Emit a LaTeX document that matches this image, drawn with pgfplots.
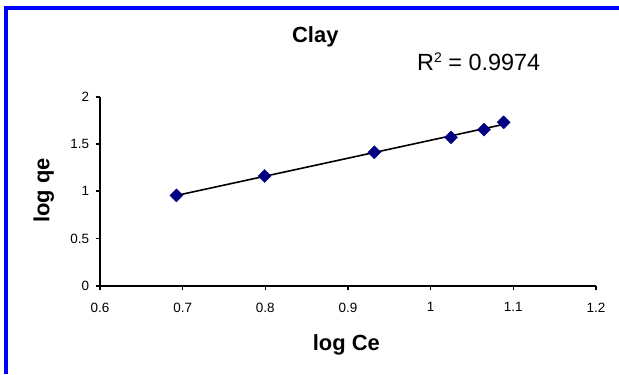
\documentclass[border=0pt]{standalone}
\usepackage{pgfplots}
\usepackage{pgfplotstable}
\pgfplotsset{compat=1.18}
\usepackage{fontspec}
\setmainfont{Liberation Sans}
\definecolor{frameblue}{RGB}{0,0,255}
\definecolor{navymark}{RGB}{0,0,128}

% Freundlich isotherm data for clay: log Ce vs log qe
\pgfplotstableread{
x y
0.6925 0.955
0.7992 1.161
0.9318 1.412
1.0246 1.570
1.0645 1.651
1.0883 1.729
}\claydata

\begin{document}
\begin{tikzpicture}[x=1bp,y=1bp]
\useasboundingbox (0,0) rectangle (619,374);
% chart frame
\fill[frameblue] (4,0) rectangle (8,368);
\fill[frameblue] (4,364) rectangle (619,368);
\begin{axis}[
  at={(100bp,88.3bp)}, anchor=south west,
  scale only axis, width=496bp, height=189bp,
  xmin=0.6, xmax=1.2, ymin=0, ymax=2,
  xtick={0.6,0.7,0.8,0.9,1,1.1,1.2},
  ytick={0,0.5,1,1.5,2},
  axis x line*=bottom, axis y line*=left,
  axis line style={-, line width=1.8bp, black},
  tick align=outside, major tick length=4.5bp,
  tick style={black, line width=1.6bp},
  tick label style={font=\fontsize{13.5}{15}\selectfont},
  xticklabel style={yshift=-9bp},
  yticklabel style={xshift=-3bp},
  /pgf/number format/assume math mode=true,
  clip=false,
]
\addplot[black, line width=1.6bp, no marks, forget plot]
  table[x=x, y={create col/linear regression={y=y}}] {\claydata};
\addplot[only marks, mark=square*, mark size=4.6bp,
  mark options={rotate=45, fill=navymark, draw=navymark}]
  table[x=x, y=y] {\claydata};
\end{axis}
\node[anchor=base, font=\bfseries\fontsize{22}{24}\selectfont] at (315.3,331.3) {Clay};
\node[anchor=base west, inner sep=0pt, font=\fontsize{23.5}{25}\selectfont] at (417,303.3)
  {R\raisebox{8.5bp}{\fontsize{14}{16}\selectfont 2} = 0.9974};
\node[anchor=base, font=\bfseries\fontsize{22}{24}\selectfont] at (346.3,24) {log Ce};
\node[anchor=base, rotate=90, font=\bfseries\fontsize{22}{24}\selectfont] at (49.3,183.5) {log qe};
\end{tikzpicture}
\end{document}
